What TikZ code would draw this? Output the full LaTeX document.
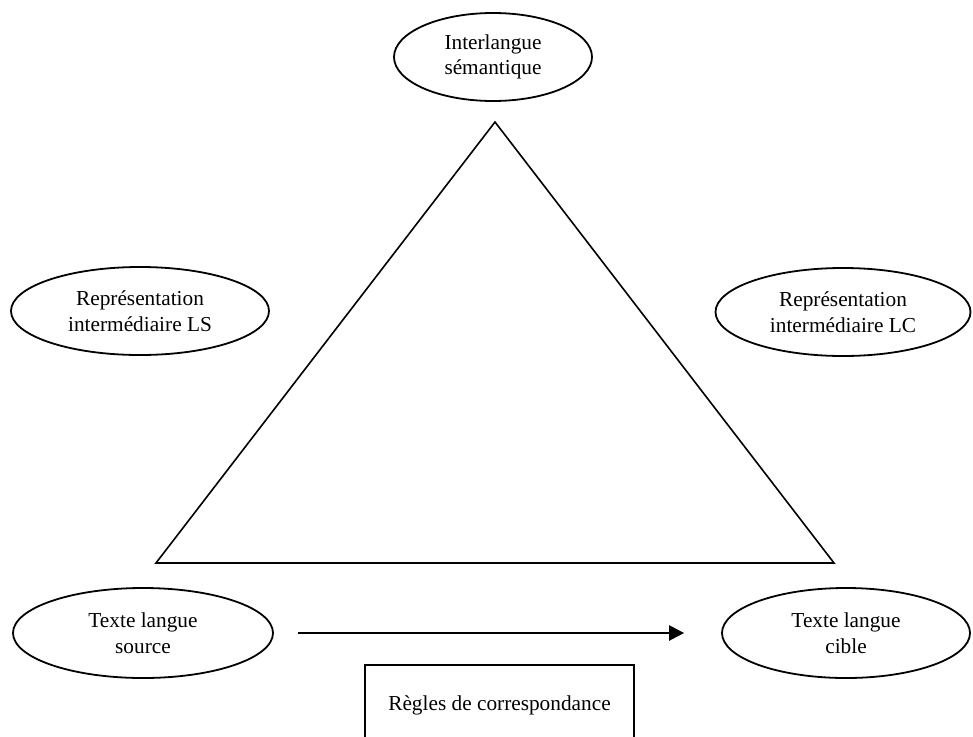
\documentclass[tikz,border=0pt]{standalone}
\usepackage{fontspec}
\setmainfont{Liberation Serif}
\usetikzlibrary{shapes.geometric,arrows.meta}
\begin{document}
\begin{tikzpicture}[x=1pt,y=-1pt,
  every node/.style={font=\fontsize{21.3}{25.6}\selectfont, align=center},
  oval/.style={ellipse, draw, line width=1.8pt, inner sep=0pt},
  tri/.style={line width=1.6pt, line join=miter},
  arrowline/.style={line width=2.4pt, -{Triangle[length=15pt,width=15pt]}},
  rulebox/.style={draw, line width=1.8pt, minimum width=269pt, minimum height=76pt, inner sep=0pt}]
\clip (0,0) rectangle (973,736);
\node[oval, minimum width=198pt, minimum height=88pt] (il) at (493,57) {Interlangue\\sémantique};
\node[oval, minimum width=258pt, minimum height=88pt] (rls) at (140,311) {Représentation\\intermédiaire LS};
\node[oval, minimum width=255pt, minimum height=88pt] (rlc) at (843,312) {Représentation\\intermédiaire LC};
\node[oval, minimum width=260pt, minimum height=90pt] (tls) at (143,633) {Texte langue\\source};
\node[oval, minimum width=248pt, minimum height=90pt] (tlc) at (846,633) {Texte langue\\cible};
\node[rulebox, text depth=0pt] (rc) at (499.5,703) {Règles de correspondance};
\coordinate (apex) at (495,122);
\coordinate (bl) at (156,563);
\coordinate (br) at (834,563);
\draw[tri] (apex) -- (bl) -- (br) -- cycle;
\draw[arrowline, shorten <=24pt, shorten >=37pt] (tls.east) -- (tlc.west);
\end{tikzpicture}
\end{document}
